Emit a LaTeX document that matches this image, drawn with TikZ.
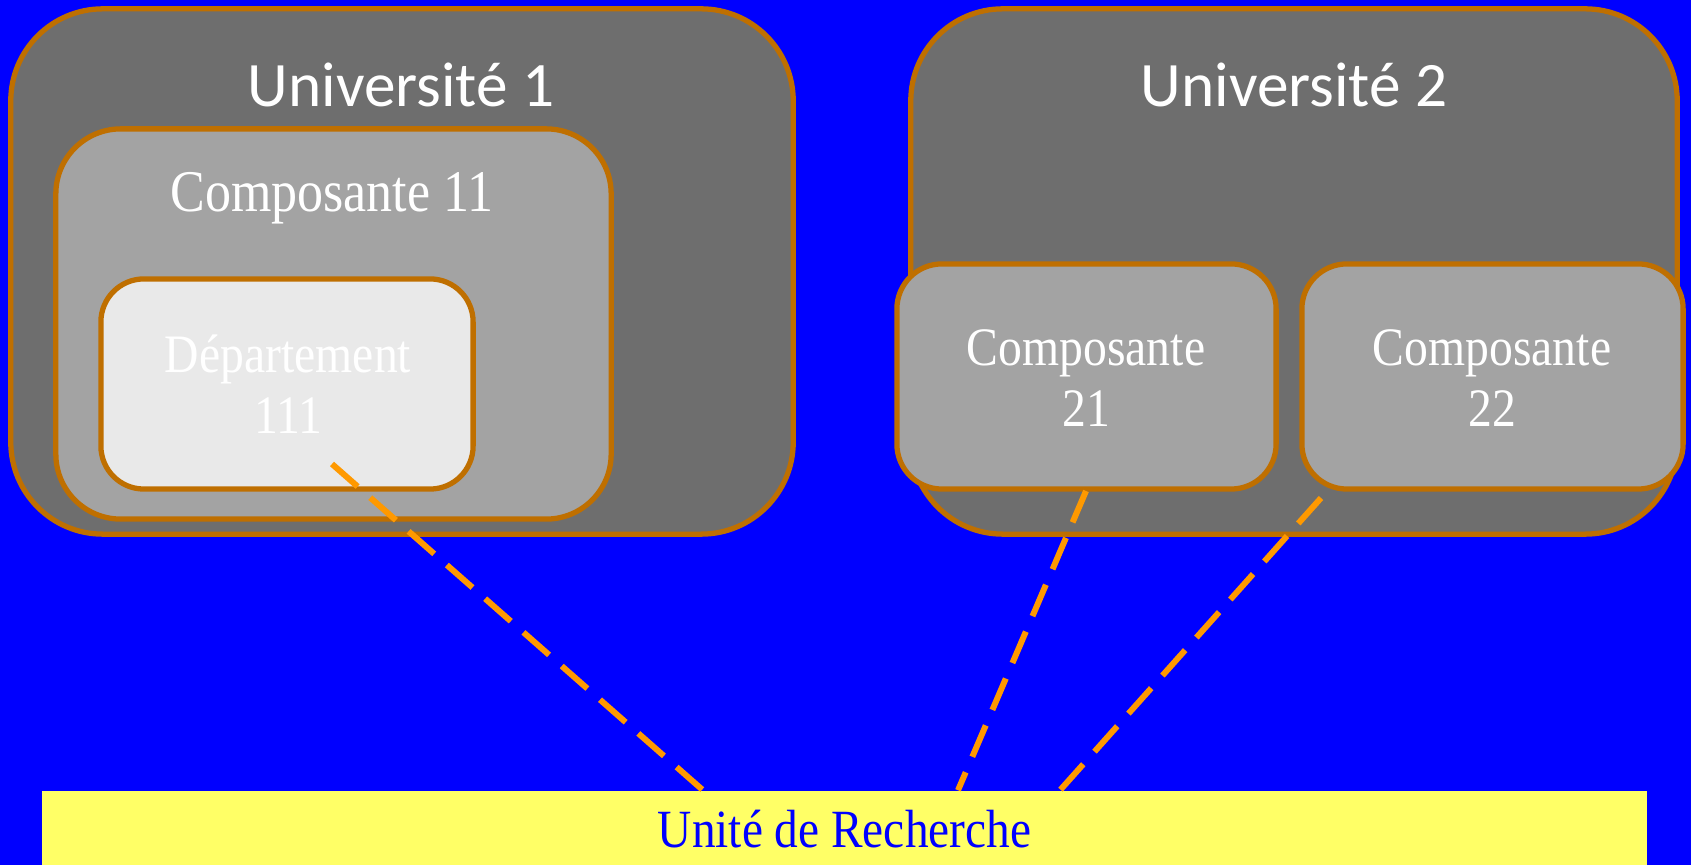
\documentclass[tikz,border=0pt]{standalone}
\usepackage{fontspec}
\setmainfont{Liberation Serif}[FakeStretch=0.88]
\newfontfamily\unifont{Carlito}
\definecolor{bordure}{RGB}{191,111,0}
\definecolor{grisfonce}{RGB}{110,110,110}
\definecolor{grismoyen}{RGB}{163,163,163}
\definecolor{grisclair}{RGB}{233,233,233}
\definecolor{orangevif}{RGB}{255,153,0}
\definecolor{jaune}{RGB}{255,255,102}
\tikzset{univ/.style = {draw=bordure, line width=1.5pt, fill=grisfonce,
                        rounded corners=0.92cm, minimum height=5.25cm}}
\tikzset{compo/.style = {draw=bordure, line width=1.5pt, fill=grismoyen,
                         rounded corners=0.45cm}}
\tikzset{titre/.style = {text=white, font=\unifont\fontsize{18}{22}\selectfont, anchor=base}}
\tikzset{texte/.style = {text=white, align=center,
                         font=\fontsize{15.4}{17.5}\selectfont}}
\tikzset{lien/.style = {draw=orangevif, line width=1.7pt,
                        dash pattern=on 9.7pt off 4.8pt}}

\begin{document}
\begin{tikzpicture}[x=0.01cm, y=-0.01cm]
    \fill [blue] (0, 0) rectangle (1691, 865);
    \useasboundingbox (0, 0) rectangle (1691, 865);

    \node [univ, minimum width=7.82cm] (univ1) at (402, 271.5) {};
    \node [titre] (titre1) at (401, 107) {Université 1};
    \node [compo, minimum width=5.55cm, minimum height=3.9cm, rounded corners=0.65cm] (comp11) at (333.5, 324) {};
    \node [texte, anchor=base, font=\fontsize{16.8}{18}\selectfont] (titre11) at (332, 212) {Composante 11};
    \node [compo, fill=grisclair, minimum width=3.72cm, minimum height=2.1cm, rounded corners=0.43cm] (dept111) at (287, 384) {};
    \node [texte] at (288, 384) {Département\\111};

    \node [univ, minimum width=7.66cm] (univ2) at (1294, 271.5) {};
    \node [titre] (titre2) at (1294, 107) {Université 2};
    \node [compo, minimum width=3.79cm, minimum height=2.25cm] (comp21) at (1086.5, 376.5) {};
    \node [texte] at (1086, 378) {Composante\\21};
    \node [compo, minimum width=3.81cm, minimum height=2.25cm] (comp22) at (1492.5, 376.5) {};
    \node [texte] at (1492, 378) {Composante\\22};

    \node [fill=jaune, minimum width=16.05cm, minimum height=0.77cm, text=blue,
           font=\fontsize{15.3}{16.5}\selectfont] (ur) at (844.5, 829.5) {Unité de Recherche};

    \coordinate (d1) at (332, 464);
    \coordinate (d2) at (1086, 491);
    \coordinate (d3) at (1321, 498);
    \draw [lien] (d1) -- (ur.north -| 703, 0);
    \draw [lien] (d2) -- (ur.north -| 958, 0);
    \draw [lien] (d3) -- (ur.north -| 1060, 0);
\end{tikzpicture}
\end{document}
